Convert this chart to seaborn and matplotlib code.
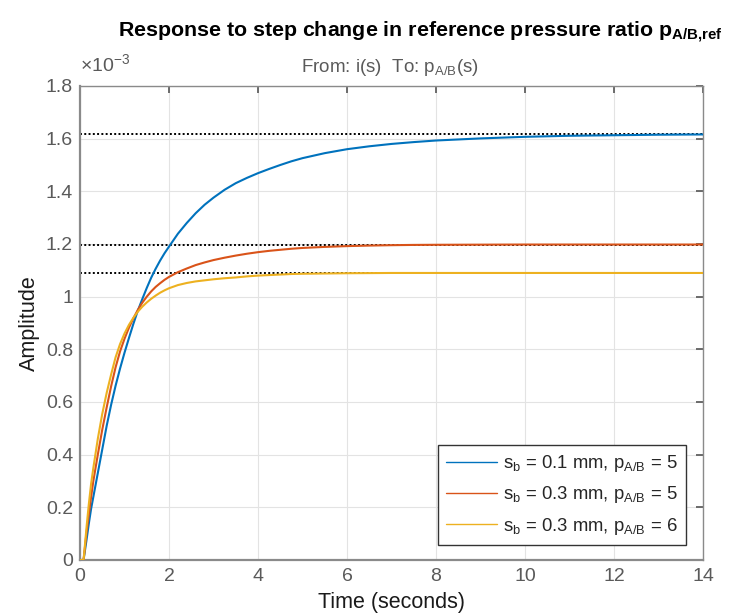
import numpy as np
import pandas as pd
import matplotlib
matplotlib.use("Agg")
import matplotlib.pyplot as plt
import seaborn as sns

# ---- data (amplitude in units of 1e-3) ----
time_s = [0, 0.08, 0.15, 0.2, 0.25, 0.3, 0.4, 0.5, 0.6, 0.7, 0.8, 0.9, 1.0, 1.1,
          1.2, 1.3, 1.4, 1.5, 1.6, 1.7, 1.8, 1.9, 2.0, 2.2, 2.4, 2.6, 2.8, 3.0,
          3.25, 3.5, 3.75, 4.0, 4.25, 4.5, 4.75, 5.0, 5.5, 6.0, 6.5, 7.0, 7.5,
          8.0, 9.0, 10.0, 11.0, 12.0, 13.0, 14.0]
blue_sb01_p5 = [0, 0, 0.08, 0.14, 0.195, 0.24, 0.33, 0.42, 0.51, 0.59, 0.662, 0.727,
                0.787, 0.843, 0.897, 0.947, 0.991, 1.033, 1.072, 1.106, 1.137, 1.165,
                1.19, 1.239, 1.280, 1.317, 1.349, 1.376, 1.406, 1.431, 1.451, 1.469,
                1.485, 1.500, 1.514, 1.526, 1.545, 1.560, 1.571, 1.58, 1.587, 1.593,
                1.601, 1.607, 1.611, 1.613, 1.615, 1.616]
red_sb03_p5 = [0, 0, 0.11, 0.175, 0.24, 0.3, 0.4, 0.495, 0.58, 0.66, 0.732, 0.792,
               0.84, 0.882, 0.918, 0.95, 0.977, 1.0, 1.02, 1.037, 1.051, 1.064, 1.075,
               1.093, 1.107, 1.12, 1.13, 1.139, 1.148, 1.156, 1.163, 1.169, 1.174,
               1.178, 1.182, 1.185, 1.189, 1.192, 1.194, 1.1955, 1.1965, 1.197,
               1.1975, 1.198, 1.198, 1.198, 1.198, 1.198]
yellow_sb03_p6 = [0, 0, 0.13, 0.215, 0.29, 0.35, 0.46, 0.555, 0.635, 0.705, 0.77, 0.82,
                  0.86, 0.893, 0.92, 0.943, 0.962, 0.978, 0.992, 1.004, 1.015, 1.024,
                  1.032, 1.044, 1.052, 1.058, 1.062, 1.066, 1.07, 1.073, 1.077, 1.08,
                  1.082, 1.084, 1.086, 1.087, 1.088, 1.089, 1.0895, 1.09, 1.09, 1.09,
                  1.09, 1.09, 1.09, 1.09, 1.09, 1.09]
final_values = [1.617, 1.198, 1.090]
series_labels = [r'$s_b$ = 0.1 mm, $p_{A/B}$ = 5',
                 r'$s_b$ = 0.3 mm, $p_{A/B}$ = 5',
                 r'$s_b$ = 0.3 mm, $p_{A/B}$ = 6']
colors = ['#0072BD', '#D95319', '#EDB120']
y_ticks = [0, 0.2, 0.4, 0.6, 0.8, 1.0, 1.2, 1.4, 1.6, 1.8]
y_ticklabels = ['0', '0.2', '0.4', '0.6', '0.8', '1', '1.2', '1.4', '1.6', '1.8']
x_ticks = [0, 2, 4, 6, 8, 10, 12, 14]

n = len(time_s)
df = pd.DataFrame({
    'time': time_s * 3,
    'amp': blue_sb01_p5 + red_sb03_p5 + yellow_sb03_p6,
    'series': [series_labels[0]] * n + [series_labels[1]] * n + [series_labels[2]] * n,
})

sns.set_theme(style='white')
plt.rcParams['font.family'] = ['Liberation Sans', 'DejaVu Sans']
plt.rcParams['mathtext.fontset'] = 'custom'
plt.rcParams['mathtext.rm'] = 'Liberation Sans'
plt.rcParams['mathtext.it'] = 'Liberation Sans'
plt.rcParams['mathtext.bf'] = 'Liberation Sans:bold'
plt.rcParams['mathtext.default'] = 'regular'

fig = plt.figure(figsize=(7.31, 6.14), dpi=100)
ax = fig.add_axes([80 / 731, 1 - 560 / 614, 623 / 731, 474 / 614])

gray = '#5a5a5a'
ax.grid(True, color='#e3e3e3', linewidth=0.8)
ax.set_axisbelow(True)

for v in final_values:
    ax.axhline(v, color='black', linestyle=(0, (1, 1.2)), linewidth=1.4, zorder=1)

sns.lineplot(data=df, x='time', y='amp', hue='series', palette=colors,
             hue_order=series_labels, linewidth=1.5, ax=ax, legend=False, zorder=3)

ax.set_xlim(0, 14)
ax.set_ylim(0, 1.8)
ax.set_xticks(x_ticks)
ax.set_yticks(y_ticks)
ax.set_yticklabels(y_ticklabels)
ax.tick_params(direction='in', length=5, colors=gray, labelsize=14,
               top=True, right=True, labelcolor=gray)
ax.tick_params(axis='x', pad=6)
ax.tick_params(axis='y', pad=5)
for s in ax.spines.values():
    s.set_color('#8a8a8a')
    s.set_linewidth(1.0)
ax.spines['left'].set_linewidth(1.6)
ax.spines['bottom'].set_linewidth(1.6)

ax.set_xlabel('Time (seconds)', fontsize=15.5, color='#1a1a1a', labelpad=5)
ax.set_ylabel('Amplitude', fontsize=15.5, color='#1a1a1a', labelpad=4)

ax.text(0.0, 1 + 15 / 474, r'$\times 10^{-3}$', transform=ax.transAxes, fontsize=14,
        color=gray, ha='left', va='baseline')
ax.text(310 / 623, 1 + 14 / 474, r'From: i(s)  To: $p_{A/B}$(s)', transform=ax.transAxes,
        fontsize=13.5, color=gray, ha='center', va='baseline')
fig.text(420 / 731, 1 - 37 / 614,
         r'Response to step change in reference pressure ratio $\mathbf{p}_{\mathbf{A/B{,}ref}}$',
         fontsize=15.4, fontweight='bold', ha='center', va='baseline', color='black')

handles = [plt.Line2D([], [], color=c, linewidth=1.0) for c in colors]
leg = ax.legend(handles, series_labels, loc='lower right',
                bbox_to_anchor=(0.973, 0.032), borderaxespad=0, fontsize=13.3,
                fancybox=False, framealpha=1, edgecolor='#333333',
                handlelength=2.75, handletextpad=0.35, labelspacing=0.55,
                borderpad=0.45)
leg.get_frame().set_linewidth(1.0)

fig.savefig('out.png', dpi=100)
